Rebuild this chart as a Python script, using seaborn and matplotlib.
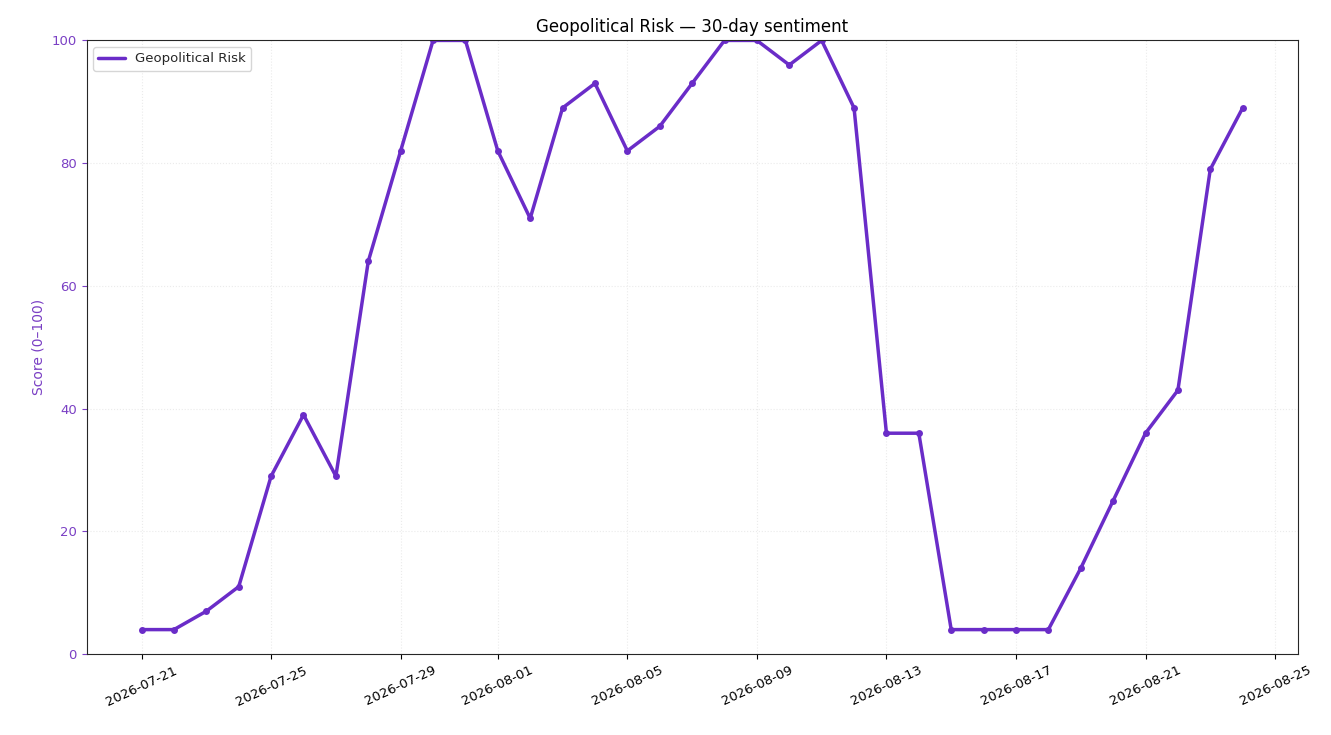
import matplotlib
matplotlib.use("Agg")
import matplotlib.pyplot as plt
import matplotlib.dates as mdates
from matplotlib.lines import Line2D
import seaborn as sns
import pandas as pd

dates = pd.date_range("2026-07-21", "2026-08-24", freq="D")
scores = [4, 4, 7, 11, 29, 39, 29, 64, 82, 100, 100, 82, 71, 89, 93, 82, 86, 93,
          100, 100, 96, 100, 89, 36, 36, 4, 4, 4, 4, 14, 25, 36, 43, 79, 89]
series_name = "Geopolitical Risk"
color = "#6a2cc8"

df = pd.DataFrame({"date": dates, "score": scores})
sns.set_style("ticks")
fig, ax = plt.subplots(figsize=(13.31, 7.35), dpi=100)
sns.lineplot(data=df, x="date", y="score", ax=ax, color=color, linewidth=2.5,
             marker="o", markersize=5, markeredgewidth=0, legend=False)
ax.set_ylim(0, 100)
ax.set_title("Geopolitical Risk — 30-day sentiment", fontsize=12, color="black")
ax.set_xlabel("")
ax.set_ylabel("Score (0–100)", color="#7a3fc4", fontsize=10)
ax.tick_params(axis="y", colors="#7a3fc4", labelsize=9.5)
ax.tick_params(axis="x", labelsize=9.5, rotation=25, colors="black")
ax.xaxis.set_major_locator(mdates.DayLocator(bymonthday=[1, 5, 9, 13, 17, 21, 25, 29]))
ax.xaxis.set_major_formatter(mdates.DateFormatter("%Y-%m-%d"))
ax.grid(True, linestyle=":", color="#ebebeb", linewidth=0.8)
ax.legend(handles=[Line2D([], [], color=color, linewidth=2.5, label=series_name)],
          loc="upper left", fontsize=9.5)
fig.subplots_adjust(left=0.065, right=0.975, top=0.945, bottom=0.11)
fig.savefig("out.png", dpi=100)
